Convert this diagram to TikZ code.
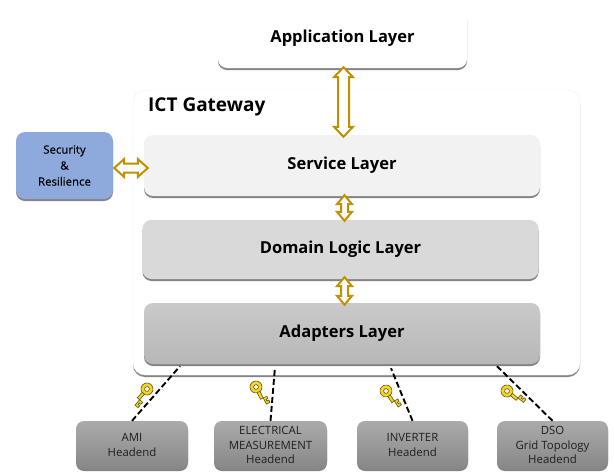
\documentclass[tikz,border=0pt]{standalone}
\usepackage{fontspec}
\setmainfont{Open Sans}
\usetikzlibrary{shadows,calc}
\definecolor{gold}{HTML}{BF9000}
\definecolor{keygold}{HTML}{F5D327}
\newcommand{\vhollow}[5]{% top tip, bottom tip, half shaft, half head, head length
  \draw[hollowline] (#1) -- ($(#1)+(#4,#5)$) -- ($(#1)+(#3,#5)$) -- ($(#2)+(#3,-#5)$) -- ($(#2)+(#4,-#5)$) -- (#2)
    -- ($(#2)+(-#4,-#5)$) -- ($(#2)+(-#3,-#5)$) -- ($(#1)+(-#3,#5)$) -- ($(#1)+(-#4,#5)$) -- cycle;}
\newcommand{\hhollow}[5]{% left tip, right tip, half shaft, half head, head length
  \draw[hollowline] (#1) -- ($(#1)+(#5,#4)$) -- ($(#1)+(#5,#3)$) -- ($(#2)+(-#5,#3)$) -- ($(#2)+(-#5,#4)$) -- (#2)
    -- ($(#2)+(-#5,-#4)$) -- ($(#2)+(-#5,-#3)$) -- ($(#1)+(#5,-#3)$) -- ($(#1)+(#5,-#4)$) -- cycle;}
\tikzset{
  softshadow/.style={drop shadow={shadow xshift=0pt,shadow yshift=-2pt,opacity=.6,fill=black!80}},
  panel/.style={rounded corners=9pt,softshadow,minimum height=60pt,minimum width=396pt,inner sep=0pt,
    font=\fontsize{16.5}{19}\selectfont\bfseries},
  headend/.style={rounded corners=8pt,softshadow,minimum height=48pt,minimum width=112pt,inner sep=0pt,
    top color=black!33,bottom color=black!47,align=center,text=black!88,
    font=\fontsize{11.4}{14.2}\selectfont},
  hollowline/.style={draw=gold,fill=white,line width=2pt,line join=miter,miter limit=4},
  link/.style={draw=black,line width=1.9pt,dash pattern=on 6pt off 3pt},
  keyshape/.pic={
    \draw[draw=black!60!keygold,fill=keygold,line width=.6pt,even odd rule]
      (0,0) circle[radius=6pt] (0,0) circle[radius=2.4pt];
    \draw[draw=black!60!keygold,fill=keygold,line width=.6pt]
      (5.6,-1.5) -- (20,-1.5) -- (20,-5.5) -- (17.4,-5.5) -- (17.4,-3.4) -- (15.6,-3.4) -- (15.6,-5.5) -- (13,-5.5)
      -- (13,1.5) -- (5.6,1.5) -- cycle;
  }
}
\begin{document}
\begin{tikzpicture}[x=1pt,y=-1pt]
\useasboundingbox (0,0) rectangle (614,472);
\fill[white] (0,0) rectangle (614,472);

\node[panel,fill=white,minimum width=249pt,minimum height=59pt] (app) at (342.5,38.5) {Application Layer};

\node[draw=black!6,fill=white,rounded corners=12pt,softshadow,minimum width=447pt,minimum height=285pt,inner sep=0pt] (gateway) at (356.5,232.5) {};
\node[anchor=west,inner sep=0pt,font=\fontsize{19}{22}\selectfont\bfseries] (gwlabel) at (148,107) {ICT Gateway};

\node[panel,fill=black!5,minimum height=61pt] (service) at (342,165.5) {Service Layer};
\node[panel,fill=black!15,minimum height=59pt] (domain) at (340.5,249.5) {Domain Logic Layer};
\node[panel,top color=black!21,bottom color=black!28,minimum height=61pt] (adapters) at (342,333.5) {Adapters Layer};

\node[rounded corners=9pt,softshadow,fill={rgb,255:red,142;green,169;blue,219},minimum width=97pt,minimum height=67pt,inner sep=0pt,
  align=center,font=\fontsize{11.4}{16}\selectfont\addfontfeatures{FakeBold=0.4}] (security) at (64.5,165.5) {Security\\\&\\Resilience};

\node[headend] (ami) at (132,445) {AMI\\Headend};
\node[headend,minimum width=113pt] (elec) at (270.5,445) {ELECTRICAL\\MEASUREMENT\\Headend};
\node[headend,minimum width=111pt] (inv) at (412.5,445) {INVERTER\\Headend};
\node[headend,minimum width=111pt] (dso) at (552.5,445) {DSO\\Grid Topology\\Headend};

\coordinate (a1) at ($(app.south)+(1,-1)$);
\coordinate (a2) at ($(app.south |- service.north)+(1,2)$);
\coordinate (b1) at ($(service.south)+(2.5,-1)$);
\coordinate (b2) at ($(service.south |- domain.north)+(2.5,1)$);
\coordinate (c1) at ($(domain.south)+(4,-2)$);
\coordinate (c2) at ($(domain.south |- adapters.north)+(4,2)$);
\coordinate (d1) at ($(security.east)+(1,2.5)$);
\coordinate (d2) at ($(security.east -| service.west)+(4,2.5)$);
\vhollow{a1}{a2}{5.5}{9.5}{10}
\vhollow{b1}{b2}{3.5}{7.5}{9}
\vhollow{c1}{c2}{3.5}{7.5}{9}
\hhollow{d1}{d2}{4.5}{9}{10}

\draw[link] (ami.north) -- ($(adapters.south)+(-162,2)$);
\draw[link] (elec.north) -- ($(adapters.south)+(-67,3)$);
\draw[link] (inv.north) -- ($(adapters.south)+(49,4)$);
\draw[link] (dso.north) -- ($(adapters.south)+(155,2)$);

\pic[rotate=229] at (147,389) {keyshape};
\pic[rotate=-63] at (256,387) {keyshape};
\pic[rotate=-57] at (386,391) {keyshape};
\pic[rotate=-39] at (507,391) {keyshape};
\end{tikzpicture}
\end{document}
